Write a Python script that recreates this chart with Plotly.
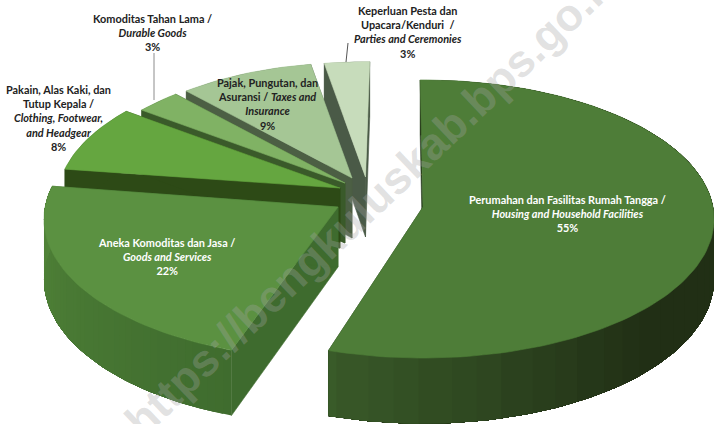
import numpy as np
import plotly.graph_objects as go

# ---- data ----
categories_id = ["Perumahan dan Fasilitas Rumah Tangga", "Aneka Komoditas dan Jasa",
                 "Pakain, Alas Kaki, dan Tutup Kepala", "Komoditas Tahan Lama",
                 "Pajak, Pungutan, dan Asuransi", "Keperluan Pesta dan Upacara/Kenduri"]
categories_en = ["Housing and Household Facilities", "Goods and Services",
                 "Clothing, Footwear, and Headgear", "Durable Goods",
                 "Taxes and Insurance", "Parties and Ceremonies"]
values = [55, 22, 8, 3, 9, 3]

label_html = [
    "<b>Perumahan dan Fasilitas Rumah Tangga /<br><i>Housing and Household Facilities</i><br>55%</b>",
    "<b>Aneka Komoditas dan Jasa /<br><i>Goods and Services</i><br>22%</b>",
    "<b>Pakain, Alas Kaki, dan<br>Tutup Kepala /<br><i>Clothing, Footwear,<br>and Headgear</i><br>8%</b>",
    "<b>Komoditas Tahan Lama /<br><i>Durable Goods</i><br>3%</b>",
    "<b>Pajak, Pungutan, dan<br>Asuransi / <i>Taxes and<br>Insurance</i><br>9%</b>",
    "<b>Keperluan Pesta dan<br>Upacara/Kenduri  /<br><i>Parties and Ceremonies</i><br>3%</b>",
]

# ---- layout / style of the exploded 3-D pie ----
W, H = 714, 424
RX, RY, PERSP, DEPTH = 290, 138, 0.0864, 60
slice_apex = [(423, 207), (338, 207), (340, 188), (345, 183), (352, 178), (365.5, 177)]
slice_radius = [1.0, 1.01, 0.97, 0.92, 0.90, 0.90]
slice_rotation = [-0.6, 1.5, 1.0, 1.0, 1.0, 1.0]
top_colors = ["#4e7d38", "#5b9141", "#65a640", "#80b264", "#a5c695", "#c7dcbb"]
radial_wall_colors = ["#24391a", "#3e6b2e", "#2d4a16", "#3a5a2a", "#4c5f44", "#4a5a47"]
label_pos = [(567, 213), (166, 256), (58, 118), (152, 32), (267, 104), (408, 32)]
label_colors = ["white", "white", "#222222", "#222222", "#222222", "#222222"]


def project(apex, r, deg):
    t = np.radians(deg)
    u, v = r * np.sin(t), -r * np.cos(t)
    s = 1 / (1 - PERSP * v)
    return apex[0] + RX * u * s, apex[1] + RY * v * s, s


def mix(c1, c2, f):
    a = [int(c1[i:i + 2], 16) for i in (1, 3, 5)]
    b = [int(c2[i:i + 2], 16) for i in (1, 3, 5)]
    return "rgb(%d,%d,%d)" % tuple(round(x + (y - x) * f) for x, y in zip(a, b))


def wall_color(i, deg):
    if i == 0:   # darkens from the front corner towards the right
        return mix("#3a5c2a", "#212f15", float(np.clip((198 - deg) / 65, 0, 1)))
    if i == 1:   # lightens towards the left edge
        return mix("#3f6c2e", "#528539", float(np.clip((deg - 198) / 79, 0, 1)))
    return radial_wall_colors[i]


fig = go.Figure()


def poly(xs, ys, color, lw=0.6):
    fig.add_trace(go.Scatter(x=list(xs) + [xs[0]], y=list(ys) + [ys[0]], mode="lines",
                             fill="toself", fillcolor=color,
                             line=dict(color=color, width=lw),
                             hoverinfo="skip", showlegend=False))


edges = np.concatenate([[0], np.cumsum(values)]) * 3.6

# back-most slices first, the big front slice last
for i in [5, 4, 3, 2, 1, 0]:
    a0, a1 = edges[i] + slice_rotation[i], edges[i + 1] + slice_rotation[i]
    apex, r = slice_apex[i], slice_radius[i]
    angles = np.linspace(a0, a1, max(4, int((a1 - a0) / 1.5)))
    px, py, ps = map(np.array, zip(*[project(apex, r, a) for a in angles]))
    # radial walls
    for j in (0, -1):
        poly([apex[0], px[j], px[j], apex[0]],
             [apex[1], py[j], py[j] + DEPTH * ps[j], apex[1] + DEPTH],
             radial_wall_colors[i])
    # outer wall: overlapping shaded bands, each later band paints over the rest of the arc
    band_count = 40 if i < 2 else 1
    for start in np.linspace(0, len(px) - 2, band_count, dtype=int):
        xb, yb, sb = px[start:], py[start:], ps[start:]
        poly(list(xb) + list(xb[::-1]), list(yb) + list((yb + DEPTH * sb)[::-1]),
             wall_color(i, angles[start]), lw=0)
    # top surface
    poly([apex[0]] + list(px), [apex[1]] + list(py), top_colors[i])

# leader lines
fig.add_shape(type="line", x0=154, y0=53, x1=154, y1=100, line=dict(color="#8c8c8c", width=1))
fig.add_shape(type="line", x0=348, y0=43, x1=346, y1=62, line=dict(color="#555555", width=1))

for html, (lx, ly), col in zip(label_html, label_pos, label_colors):
    fig.add_annotation(x=lx, y=ly, text=html, showarrow=False, xanchor="center", yanchor="middle",
                       align="center", font=dict(family="Lato", size=10.9, color=col))

fig.add_annotation(x=373, y=199, text="<b>https://bengkuluskab.bps.go.id</b>", showarrow=False,
                   textangle=-43.5, xanchor="center", yanchor="middle",
                   font=dict(family="Liberation Sans", size=45, color="rgba(165,165,165,0.32)"))

fig.update_layout(width=W, height=H, margin=dict(l=0, r=0, t=0, b=0),
                  paper_bgcolor="white", plot_bgcolor="white", showlegend=False,
                  xaxis=dict(range=[0, W], visible=False, fixedrange=True),
                  yaxis=dict(range=[H, 0], visible=False, fixedrange=True))
fig.write_html("out.html", config={"displayModeBar": False},
               post_script="document.body.style.margin='0';document.documentElement.style.overflow='hidden';")
